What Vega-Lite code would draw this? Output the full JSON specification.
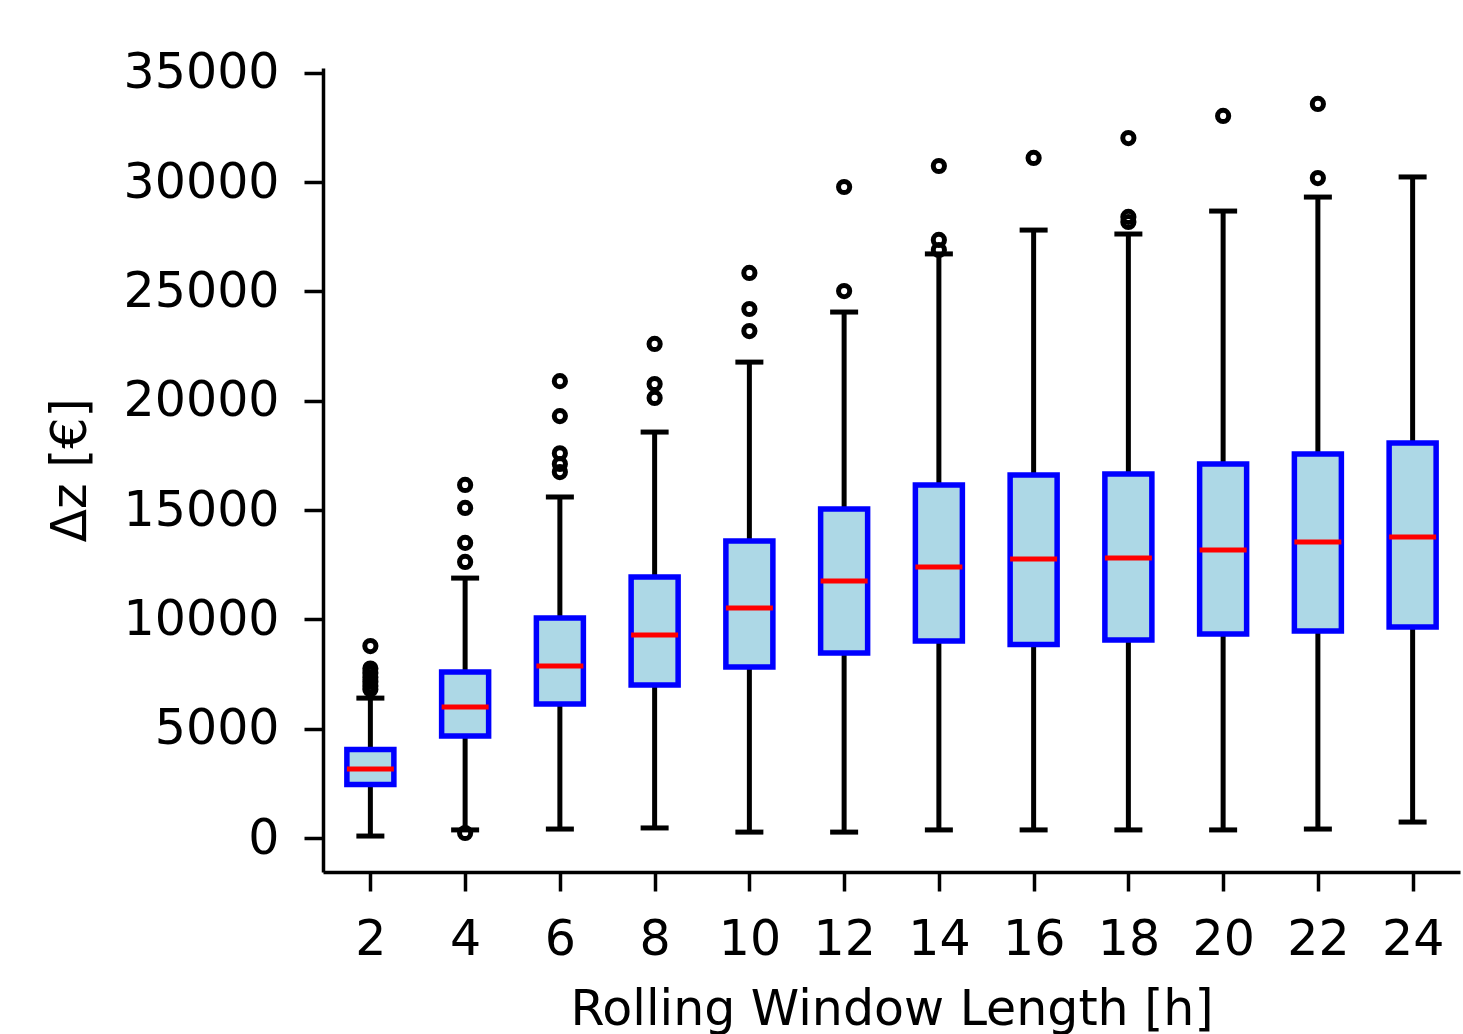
{
  "$schema": "https://vega.github.io/schema/vega-lite/v6.json",
  "width": 1137,
  "height": 804,
  "autosize": {"type": "none"},
  "padding": {"left": 323, "top": 68, "right": 3, "bottom": 162},
  "background": "white",
  "config": {
    "view": {"stroke": null},
    "font": "DejaVu Sans",
    "axis": {
      "labelFont": "DejaVu Sans",
      "titleFont": "DejaVu Sans",
      "labelFontSize": 49,
      "titleFontSize": 49,
      "labelColor": "black",
      "titleColor": "black",
      "titleFontWeight": "normal",
      "domainColor": "black",
      "domainWidth": 3.5,
      "tickColor": "black",
      "tickWidth": 3.5,
      "tickSize": 19,
      "grid": false,
      "labelFlush": false,
      "labelOverlap": false
    }
  },
  "datasets": {
    "boxes": [
      {"w": 2, "lower": 90, "q1": 2450, "median": 3160, "q3": 4050, "upper": 6400},
      {"w": 4, "lower": 370, "q1": 4670, "median": 5990, "q3": 7590, "upper": 11890},
      {"w": 6, "lower": 410, "q1": 6130, "median": 7870, "q3": 10060, "upper": 15600},
      {"w": 8, "lower": 460, "q1": 7000, "median": 9290, "q3": 11940, "upper": 18570},
      {"w": 10, "lower": 270, "q1": 7820, "median": 10520, "q3": 13590, "upper": 21770},
      {"w": 12, "lower": 270, "q1": 8460, "median": 11760, "q3": 15050, "upper": 24060},
      {"w": 14, "lower": 370, "q1": 9010, "median": 12400, "q3": 16150, "upper": 26720},
      {"w": 16, "lower": 370, "q1": 8850, "median": 12760, "q3": 16610, "upper": 27810},
      {"w": 18, "lower": 370, "q1": 9060, "median": 12810, "q3": 16650, "upper": 27630},
      {"w": 20, "lower": 370, "q1": 9330, "median": 13170, "q3": 17110, "upper": 28680},
      {"w": 22, "lower": 410, "q1": 9470, "median": 13540, "q3": 17570, "upper": 29320},
      {"w": 24, "lower": 730, "q1": 9650, "median": 13770, "q3": 18070, "upper": 30240}
    ],
    "outliers": [
      {"w": 2, "v": 8780}, {"w": 2, "v": 7750}, {"w": 2, "v": 7550}, {"w": 2, "v": 7350},
      {"w": 2, "v": 7150}, {"w": 2, "v": 6950}, {"w": 2, "v": 6800},
      {"w": 4, "v": 230}, {"w": 4, "v": 12630}, {"w": 4, "v": 13500}, {"w": 4, "v": 15100}, {"w": 4, "v": 16150},
      {"w": 6, "v": 16740}, {"w": 6, "v": 17110}, {"w": 6, "v": 17600}, {"w": 6, "v": 19300}, {"w": 6, "v": 20900},
      {"w": 8, "v": 20130}, {"w": 8, "v": 20770}, {"w": 8, "v": 22600},
      {"w": 10, "v": 23190}, {"w": 10, "v": 24200}, {"w": 10, "v": 25850},
      {"w": 12, "v": 25020}, {"w": 12, "v": 29780},
      {"w": 14, "v": 26900}, {"w": 14, "v": 27360}, {"w": 14, "v": 30740},
      {"w": 16, "v": 31110},
      {"w": 18, "v": 28180}, {"w": 18, "v": 28410}, {"w": 18, "v": 32020},
      {"w": 20, "v": 33030},
      {"w": 22, "v": 30190}, {"w": 22, "v": 33580}
    ]
  },
  "layer": [
    {
      "data": {"name": "boxes"},
      "mark": {"type": "rule", "color": "black", "strokeWidth": 5},
      "encoding": {
        "x": {
          "field": "w", "type": "quantitative",
          "scale": {"domain": [1, 25], "nice": false, "zero": false, "padding": 0},
          "axis": {
            "values": [2, 4, 6, 8, 10, 12, 14, 16, 18, 20, 22, 24],
            "title": "Rolling Window Length [h]",
            "labelPadding": 24,
            "titlePadding": 21
          }
        },
        "y": {
          "field": "lower", "type": "quantitative",
          "scale": {"domain": [-1555, 35224], "nice": false, "zero": false, "padding": 0},
          "axis": {
            "values": [0, 5000, 10000, 15000, 20000, 25000, 30000, 35000],
            "format": "d",
            "title": "Δz [€]",
            "labelPadding": 25,
            "titlePadding": 28
          }
        },
        "y2": {"field": "upper"}
      }
    },
    {
      "data": {"name": "boxes"},
      "mark": {"type": "tick", "orient": "horizontal", "color": "black", "size": 28, "thickness": 5, "opacity": 1},
      "encoding": {
        "x": {"field": "w", "type": "quantitative"},
        "y": {"field": "lower", "type": "quantitative"}
      }
    },
    {
      "data": {"name": "boxes"},
      "mark": {"type": "tick", "orient": "horizontal", "color": "black", "size": 28, "thickness": 5, "opacity": 1},
      "encoding": {
        "x": {"field": "w", "type": "quantitative"},
        "y": {"field": "upper", "type": "quantitative"}
      }
    },
    {
      "data": {"name": "boxes"},
      "mark": {"type": "bar", "size": 47, "fill": "#add8e6", "stroke": "#0000ff", "strokeWidth": 5.5, "opacity": 1},
      "encoding": {
        "x": {"field": "w", "type": "quantitative"},
        "y": {"field": "q1", "type": "quantitative"},
        "y2": {"field": "q3"}
      }
    },
    {
      "data": {"name": "boxes"},
      "mark": {"type": "tick", "orient": "horizontal", "color": "#ff0000", "size": 47, "thickness": 5, "opacity": 1},
      "encoding": {
        "x": {"field": "w", "type": "quantitative"},
        "y": {"field": "median", "type": "quantitative"}
      }
    },
    {
      "data": {"name": "outliers"},
      "mark": {"type": "point", "shape": "circle", "filled": false, "stroke": "black", "strokeWidth": 5, "size": 125, "opacity": 1},
      "encoding": {
        "x": {"field": "w", "type": "quantitative"},
        "y": {"field": "v", "type": "quantitative"}
      }
    }
  ]
}
